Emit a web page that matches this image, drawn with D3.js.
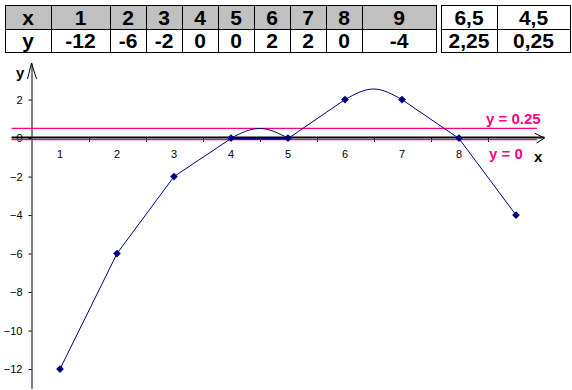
<!DOCTYPE html>
<html>
<head>
<meta charset="utf-8">
<script src="https://cdn.jsdelivr.net/npm/d3@7"></script>
<style>
  body { margin: 0; background: #fff; }
  svg { display: block; font-family: Arial, "Liberation Sans", sans-serif; }
</style>
</head>
<body>
<div class="chart"></div>
<script>
// table values
let tableX = ['1', '2', '3', '4', '5', '6', '7', '8', '9']
let tableY = ['-12', '-6', '-2', '0', '0', '2', '2', '0', '-4']
let extraX = ['6,5', '4,5']
let extraY = ['2,25', '0,25']

// plotted points (markers), joined by straight lines
let pointX = [1, 2, 3, 4, 5, 6, 7, 8, 9]
let pointY = [-12, -6, -2, 0, 0, 2, 2, 0, -4]

// arcs between 4-5 and 6-7
let arcX = [[4, 4.5, 5], [6, 6.5, 7]]
let arcY = [[0, 0.5, 0], [2, 2.55, 2]]

let yTicks = [2, 0, -2, -4, -6, -8, -10, -12]
let xTicks = [1, 2, 3, 4, 5, 6, 7, 8]
let xBounds = [1.5, 2.5, 3.5, 4.5, 5.5, 6.5, 7.5, 8.5]

// horizontal reference lines (drawn position) and their labels
let refY = [0.5, 0]
let refLabels = ['y = 0.25', 'y = 0']

let width = 572,
    height = 390

let navy = '#000080',
    pink = '#ff0080'

let svg = d3.select('.chart').append('svg')
    .attr('width', width)
    .attr('height', height)

// ---------- table ----------
let colW = [46, 59, 36, 36, 36, 36, 36, 36, 36, 74],
    col2W = [56, 73],
    tableTop = 5,
    rowH = [24, 23]

function drawTable(left, widths, rows, shadeHeader) {
    let g = svg.append('g')
    let edges = [left]
    widths.forEach(function(w) { edges.push(edges[edges.length - 1] + w) })
    let tops = [tableTop, tableTop + rowH[0], tableTop + rowH[0] + rowH[1]]
    if (shadeHeader) {
        g.append('rect')
            .attr('x', left).attr('y', tops[0])
            .attr('width', edges[edges.length - 1] - left).attr('height', rowH[0])
            .attr('fill', '#c0c0c0')
    }
    rows.forEach(function(row, r) {
        g.selectAll('text.r' + r).data(row).enter().append('text')
            .attr('x', function(d, i) { return (edges[i] + edges[i + 1]) / 2 })
            .attr('y', (tops[r] + tops[r + 1]) / 2 + 7.5)
            .attr('text-anchor', 'middle')
            .attr('font-size', 21)
            .attr('font-weight', 'bold')
            .text(function(d) { return d })
    })
    g.selectAll('line.v').data(edges).enter().append('line')
        .attr('x1', function(d) { return d + 0.5 }).attr('x2', function(d) { return d + 0.5 })
        .attr('y1', tops[0]).attr('y2', tops[2] + 1)
        .attr('stroke', '#000')
    g.selectAll('line.h').data(tops).enter().append('line')
        .attr('x1', left).attr('x2', edges[edges.length - 1] + 1)
        .attr('y1', function(d) { return d + 0.5 }).attr('y2', function(d) { return d + 0.5 })
        .attr('stroke', '#000')
}

drawTable(5, colW, [['x'].concat(tableX), ['y'].concat(tableY)], true)
drawTable(441, col2W, [extraX, extraY], false)

// ---------- chart ----------
let x = d3.scaleLinear().domain([0.5, 9.5]).range([31.5, 544.5])
let y = d3.scaleLinear().domain([3.9, -13]).range([63, 388.3])

// y axis
let yAxis = svg.append('g')
    .attr('transform', 'translate(' + x(0.5) + ',0)')
    .call(d3.axisLeft(y).tickValues(yTicks).tickSize(3).tickSizeOuter(0).tickPadding(6))
yAxis.select('.domain').attr('stroke', '#000')
yAxis.selectAll('text').attr('font-size', 11).attr('font-family', 'Arial, "Liberation Sans", sans-serif')

// x tick labels (category centres) and tick marks (category boundaries)
svg.append('g').selectAll('text').data(xTicks).enter().append('text')
    .attr('x', function(d) { return x(d) })
    .attr('y', y(0) + 20)
    .attr('text-anchor', 'middle')
    .attr('font-size', 11)
    .text(function(d) { return d })

svg.append('g').selectAll('line').data(xBounds).enter().append('line')
    .attr('x1', function(d) { return Math.round(x(d)) + 0.5 })
    .attr('x2', function(d) { return Math.round(x(d)) + 0.5 })
    .attr('y1', y(0)).attr('y2', y(0) + 4)
    .attr('stroke', '#000')

// black x axis
svg.append('line')
    .attr('x1', x(0.15)).attr('x2', x(9.5))
    .attr('y1', y(0) - 0.5).attr('y2', y(0) - 0.5)
    .attr('stroke', '#000').attr('stroke-width', 2)

// pink reference lines
svg.append('g').selectAll('line').data(refY).enter().append('line')
    .attr('x1', x(0.15)).attr('x2', x(9.37))
    .attr('y1', function(d) { return y(d) + (d === 0 ? 1.5 : 0) })
    .attr('y2', function(d) { return y(d) + (d === 0 ? 1.5 : 0) })
    .attr('stroke', pink).attr('stroke-width', 1.3)

// blue lines: straight pieces (no straight piece between 6 and 7)
let straight = d3.line()
    .x(function(d) { return x(d[0]) })
    .y(function(d) { return y(d[1]) + (d[1] === 0 ? 0.5 : 0) })

let pts = d3.zip(pointX, pointY)
let pieces = [pts.slice(0, 6), pts.slice(6)]
svg.append('g').selectAll('path').data(pieces).enter().append('path')
    .attr('d', straight)
    .attr('fill', 'none')
    .attr('stroke', navy)
    .attr('stroke-width', 1)

// thicker flat stretch on y = 0
svg.append('path')
    .datum(pts.slice(3, 5))
    .attr('d', straight)
    .attr('fill', 'none')
    .attr('stroke', navy)
    .attr('stroke-width', 2)

// arcs
let arc = d3.line()
    .curve(d3.curveNatural)
    .x(function(d) { return x(d[0]) })
    .y(function(d) { return y(d[1]) })

svg.append('g').selectAll('path').data(arcX.map(function(a, i) { return d3.zip(a, arcY[i]) })).enter().append('path')
    .attr('d', arc)
    .attr('fill', 'none')
    .attr('stroke', navy)
    .attr('stroke-width', 1)

// markers
svg.append('g').selectAll('path').data(pts).enter().append('path')
    .attr('transform', function(d) { return 'translate(' + x(d[0]) + ',' + y(d[1]) + ') rotate(45)' })
    .attr('d', d3.symbol().type(d3.symbolSquare).size(30))
    .attr('fill', navy)

// arrow heads
let yTop = y.range()[0],
    xEnd = x(9.5)
svg.append('path')
    .attr('d', 'M' + (x(0.5) - 4) + ',' + (yTop + 16) + 'L' + x(0.5) + ',' + yTop + 'L' + (x(0.5) + 5) + ',' + (yTop + 16))
    .attr('fill', 'none').attr('stroke', '#000')
svg.append('path')
    .attr('d', 'M' + (xEnd - 10) + ',' + (y(0) - 5) + 'L' + xEnd + ',' + y(0) + 'L' + (xEnd - 8) + ',' + (y(0) + 5))
    .attr('fill', 'none').attr('stroke', '#000')

// axis names
svg.append('text')
    .attr('x', 16).attr('y', 78)
    .attr('font-size', 15).attr('font-weight', 'bold')
    .text('y')
svg.append('text')
    .attr('x', 534).attr('y', 162)
    .attr('font-size', 15).attr('font-weight', 'bold')
    .text('x')

// reference labels
svg.append('g').selectAll('text').data(refLabels).enter().append('text')
    .attr('x', function(d, i) { return i === 0 ? 486 : 489 })
    .attr('y', function(d, i) { return y(refY[i]) + (i === 0 ? -4 : 21) })
    .attr('font-size', 15).attr('font-weight', 'bold')
    .attr('fill', pink)
    .text(function(d) { return d })
</script>
</body>
</html>
